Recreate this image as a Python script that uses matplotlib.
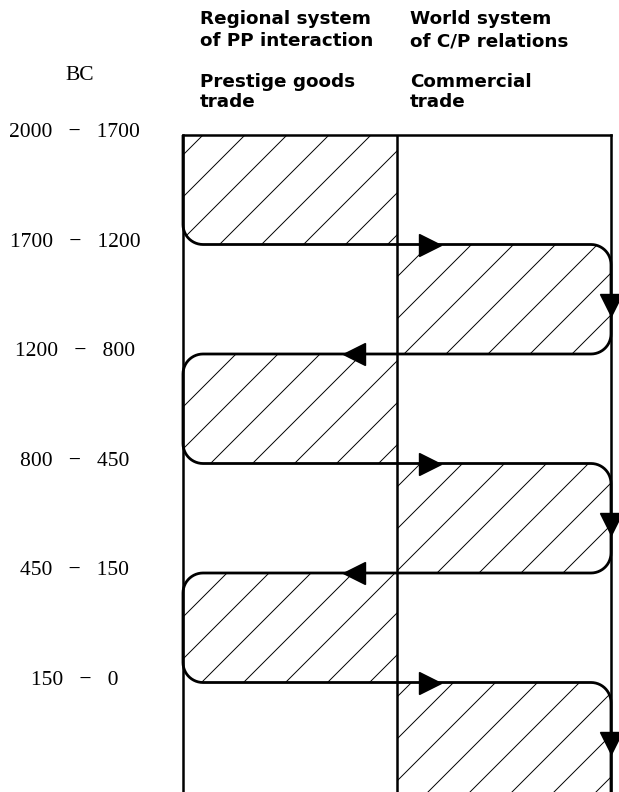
import numpy as np
import matplotlib.pyplot as plt
from matplotlib.path import Path
from matplotlib.patches import PathPatch
from matplotlib.collections import LineCollection

periods = ["2000 - 1700", "1700 - 1200", "1200 - 800", "800 - 450", "450 - 150", "150 - 0"]
# which system carries the trade in each period: 0 = regional PP, 1 = world C/P
active = [0, 1, 0, 1, 0, 1]
headers = ["Regional system\nof PP interaction", "World system\nof C/P relations"]
trade_types = ["Prestige goods\ntrade", "Commercial\ntrade"]

W, H = 619, 792
fig = plt.figure(figsize=(W / 100, H / 100), dpi=100)
bx0, bx1, by0 = 183, 611, 135
ax = fig.add_axes([bx0 / W, 0, (bx1 - bx0) / W, (H - by0) / H])
n = len(periods)
ncol = len(headers)
ax.set_xlim(0, ncol)
ax.set_ylim(n, 0)
ax.set_xticks([])
ax.set_yticks([])
ax.spines['bottom'].set_visible(False)
for s in ['left', 'right', 'top']:
    ax.spines[s].set_linewidth(1.8)
ax.axvline(1, color='black', lw=1.8)

# pixels per data unit, so corners and hatching come out round / 45 degrees
sx = (bx1 - bx0) / ncol
sy = (H - by0) / n


def rounded(points, radii, closed=True):
    pts = np.array(points, float) * [sx, sy]
    out = []
    m = len(pts)
    for k in range(m):
        p, r = pts[k], radii[k]
        if r == 0 or (not closed and (k == 0 or k == m - 1)):
            out.append(p)
            continue
        a, b = pts[k - 1], pts[(k + 1) % m]
        u = (a - p) / np.linalg.norm(a - p)
        v = (b - p) / np.linalg.norm(b - p)
        c = p + r * (u + v)
        t = np.linspace(0, np.pi / 2, 14)
        out.extend(c - r * (np.outer(np.cos(t), v) + np.outer(np.sin(t), u)))
    if closed:
        out.append(out[0])
    return np.array(out) / [sx, sy]


# hatched cells
R = 20
for i, c in enumerate(active):
    corners = [(c, i), (c + 1, i), (c + 1, i + 1), (c, i + 1)]
    if c == 0:
        radii = [10 if i == 0 else R, 0, 0, R]
    else:
        radii = [0, R, R if i < n - 1 else 0, 0]
    poly = rounded(corners, radii)
    patch = PathPatch(Path(poly, closed=True), facecolor='none', edgecolor='none')
    ax.add_patch(patch)
    segs = []
    for k in np.arange(-400, 1500, 42):
        t = np.array([-100, 600])
        segs.append(np.column_stack([t / sx, (k - t) / sy]))
    lc = LineCollection(segs, colors='black', linewidths=0.7)
    lc.set_clip_path(patch)
    ax.add_collection(lc)

# flow line snaking between the two systems
way = []
for i, c in enumerate(active):
    xe = 0 if c == 0 else ncol
    way += [(xe, i), (xe, i + 1)]
line = rounded(way, [R] * len(way), closed=False)
ax.plot(line[:, 0], line[:, 1], color='black', lw=2.0, solid_capstyle='butt', clip_on=False)

# arrowheads
for i in range(n - 1):
    if active[i] == 0 and active[i + 1] == 1:
        ax.plot(1.154, i + 1, marker='>', ms=16, color='black', clip_on=False)
    elif active[i] == 1 and active[i + 1] == 0:
        ax.plot(0.80, i + 1, marker='<', ms=16, color='black', clip_on=False)
for i, c in enumerate(active):
    if c == 1:
        ax.plot(ncol, i + 0.55, marker='v', ms=16, color='black', clip_on=False)

# period labels
for i, p in enumerate(periods):
    a, b = p.split(" - ")
    ax.text(-0.505, i - 0.02, f"{a}   \u2212   {b}", ha='center', va='center',
            family='Liberation Serif', fontsize=15.5, clip_on=False)
ax.text(-0.481, -0.54, "BC", ha='center', va='center',
        family='Liberation Serif', fontsize=15.5, clip_on=False)

hx = [0.08, 1.06]
for j in range(ncol):
    ax.text(hx[j], -1.142, headers[j], ha='left', va='top', family='DejaVu Sans',
            fontweight='bold', fontsize=13.2, linespacing=1.3, clip_on=False)
    ax.text(hx[j], -0.566, trade_types[j], ha='left', va='top', family='DejaVu Sans',
            fontweight='bold', fontsize=13.2, linespacing=1.15, clip_on=False)

plt.savefig('out.png', dpi=100)
